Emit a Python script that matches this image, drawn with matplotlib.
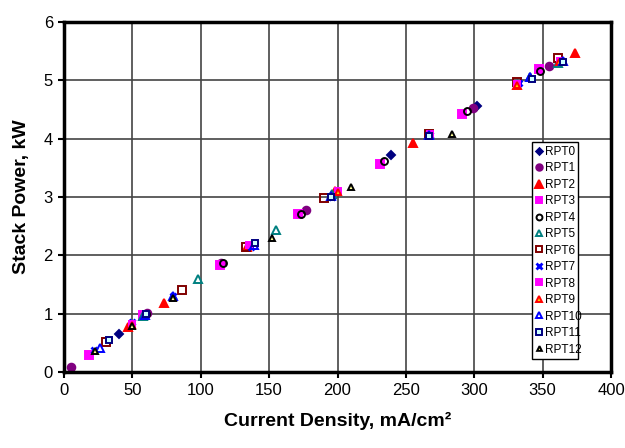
import matplotlib.pyplot as plt

plt.rcParams['font.family'] = ['Liberation Sans', 'DejaVu Sans']

# Current density (mA/cm2) and stack power (kW) for each RPT
rpt0_x = [40, 239, 302]
rpt0_y = [0.65, 3.72, 4.56]
rpt1_x = [5, 61, 115, 177, 299, 355]
rpt1_y = [0.08, 1.01, 1.87, 2.77, 4.53, 5.24]
rpt2_x = [47, 73, 134, 198, 255, 331, 374]
rpt2_y = [0.77, 1.18, 2.15, 3.10, 3.93, 4.92, 5.47]
rpt3_x = [18, 58, 114, 171, 231, 291, 347]
rpt3_y = [0.30, 0.97, 1.84, 2.70, 3.57, 4.43, 5.20]
rpt4_x = [60, 116, 173, 234, 295, 348]
rpt4_y = [1.00, 1.87, 2.71, 3.62, 4.48, 5.16]
rpt5_x = [58, 98, 155, 196, 267, 341, 361]
rpt5_y = [0.96, 1.60, 2.44, 3.05, 4.08, 5.06, 5.30]
rpt6_x = [31, 86, 133, 190, 267, 331, 361]
rpt6_y = [0.52, 1.41, 2.15, 2.99, 4.08, 4.97, 5.38]
rpt7_x = [22, 50, 80, 137, 196, 268, 333, 364]
rpt7_y = [0.37, 0.85, 1.31, 2.15, 3.00, 4.07, 4.95, 5.33]
rpt8_x = [50, 135, 200, 268, 331, 363]
rpt8_y = [0.82, 2.17, 3.10, 4.08, 4.94, 5.33]
rpt9_x = [50, 200, 331, 362]
rpt9_y = [0.80, 3.09, 4.92, 5.32]
rpt10_x = [26, 59, 80, 139, 195, 267, 341, 365]
rpt10_y = [0.41, 0.98, 1.30, 2.18, 3.01, 4.06, 5.05, 5.33]
rpt11_x = [33, 60, 140, 195, 267, 342, 365]
rpt11_y = [0.55, 1.00, 2.21, 3.00, 4.05, 5.02, 5.31]
rpt12_x = [23, 50, 80, 152, 210, 284]
rpt12_y = [0.36, 0.79, 1.27, 2.30, 3.17, 4.08]

x_ticks = [0, 50, 100, 150, 200, 250, 300, 350, 400]
y_ticks = [0, 1, 2, 3, 4, 5, 6]

fig = plt.figure(figsize=(6.25, 4.48), dpi=100)
ax = fig.add_axes([0.1024, 0.1696, 0.8752, 0.7814])

# (x, y, label, marker, size, face, edge)
series = [
    (rpt0_x, rpt0_y, "RPT0", "D", 4, "#000080", "#000080"),
    (rpt1_x, rpt1_y, "RPT1", "o", 5.5, "#800080", "#800080"),
    (rpt2_x, rpt2_y, "RPT2", "^", 6, "#ff0000", "#ff0000"),
    (rpt3_x, rpt3_y, "RPT3", "s", 5.5, "#ff00ff", "#ff00ff"),
    (rpt4_x, rpt4_y, "RPT4", "o", 5, "none", "#000000"),
    (rpt5_x, rpt5_y, "RPT5", "^", 5.5, "none", "#008080"),
    (rpt6_x, rpt6_y, "RPT6", "s", 5.5, "none", "#800000"),
    (rpt7_x, rpt7_y, "RPT7", "x", 5, "#0000ff", "#0000ff"),
    (rpt8_x, rpt8_y, "RPT8", "s", 4.5, "#ff00ff", "#ff00ff"),
    (rpt9_x, rpt9_y, "RPT9", "^", 4.5, "#ffcc00", "#ff0000"),
    (rpt10_x, rpt10_y, "RPT10", "^", 5.5, "none", "#0000ff"),
    (rpt11_x, rpt11_y, "RPT11", "s", 4.5, "#ccffff", "#000080"),
    (rpt12_x, rpt12_y, "RPT12", "^", 4, "#ffff99", "#000000"),
]

for xs, ys, lab, mk, ms, fc, ec in series:
    mew = 2.0 if mk == "x" else 1.4
    ax.plot(xs, ys, linestyle="none", marker=mk, markersize=ms,
            markerfacecolor=fc, markeredgecolor=ec, markeredgewidth=mew,
            label=lab)

ax.set_xlim(0, 400)
ax.set_ylim(0, 6)
ax.set_xticks(x_ticks)
ax.set_yticks(y_ticks)
ax.tick_params(labelsize=12, direction="out", length=4, width=1.5, pad=4)
ax.grid(True, color="#444444", linewidth=1.2)
ax.set_axisbelow(True)
for sp in ax.spines.values():
    sp.set_linewidth(2.5)
    sp.set_color("black")

ax.set_xlabel("Current Density, mA/cm²", fontsize=14, fontweight="bold", labelpad=10)
ax.set_ylabel("Stack Power, kW", fontsize=14, fontweight="bold", labelpad=10)

leg = ax.legend(loc="lower left", bbox_to_anchor=(0.856, 0.037, 0.084, 0.637),
                mode="expand", fontsize=8.5, frameon=True, fancybox=False,
                edgecolor="black", handlelength=0.6, handletextpad=0.2,
                borderpad=0.3, labelspacing=0.38, borderaxespad=0,
                markerscale=0.85)
leg.get_frame().set_linewidth(1.0)
leg.get_frame().set_alpha(1)

fig.savefig("out.png", dpi=100)
